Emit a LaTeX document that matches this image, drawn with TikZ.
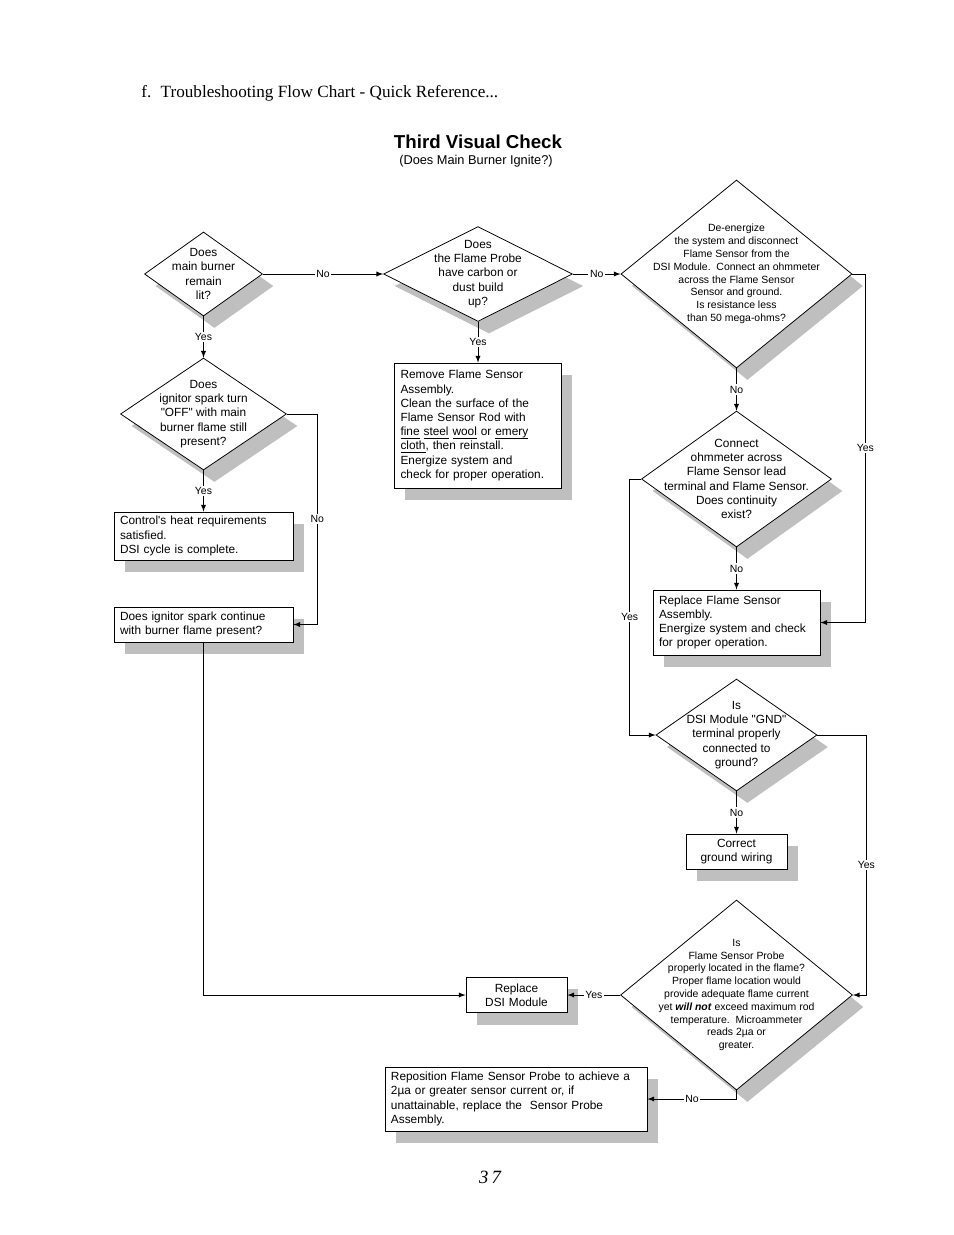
\documentclass[tikz,border=0pt]{standalone}
\usepackage{fontspec}
\setmainfont{Liberation Serif}
\setsansfont{Liberation Sans}
\newfontfamily\diagfont{Liberation Sans}
\usepackage{tikz}
\usetikzlibrary{shapes,arrows,shadows,calc}
\newcommand{\qfont}{\diagfont\fontsize{7.6}{9.1}\selectfont}
\newcommand{\qsmall}{\diagfont\fontsize{6.7}{8.2}\selectfont}
\newcommand{\lblfont}{\diagfont\fontsize{6.7}{8}\selectfont}
\newcommand{\ulw}[1]{\underline{\smash{#1}}}
\tikzstyle{boxshadow}=[drop shadow={shadow xshift=7pt,shadow yshift=-7.7pt,opacity=1,fill=black!25}]
\tikzstyle{ask}=[diamond,draw,fill=white,inner sep=0pt,boxshadow]
\tikzstyle{asktext}=[align=center,inner sep=0pt,font=\qfont]
\tikzstyle{stepbox}=[rectangle,draw,fill=white,inner xsep=3.85pt,inner ysep=2pt,align=left,font=\qfont,boxshadow]
\tikzstyle{yn}=[fill=white,inner sep=1pt,font=\lblfont]
\tikzstyle{link}=[-latex]

\begin{document}
\begin{tikzpicture}[x=0.6415pt,y=-0.6415pt,line width=0.5pt]
\useasboundingbox (0,0) rectangle (954,1235);
\node[anchor=west,inner sep=0pt,font=\fontsize{11}{13}\selectfont] (head) at (141,93) {f.\hspace{6pt}Troubleshooting Flow Chart - Quick Reference...};
\node[font=\sffamily\bfseries\fontsize{12}{14}\selectfont] (title) at (478,142) {Third Visual Check};
\node[font=\sffamily\fontsize{8.2}{10}\selectfont] (subtitle) at (476,161) {(Does Main Burner Ignite?)};
\node[font=\itshape\fontsize{12}{14}\selectfont] (pageno) at (490,1177) {3\,7};

% decisions
\node[ask,minimum width=75.7pt,minimum height=53.9pt] (lit) at (203.5,274) {};
\node[asktext] (litq) at (lit) {Does\\main burner\\remain\\lit?};
\node[ask,minimum width=121.2pt,minimum height=60.9pt] (carbon) at (478,274) {};
\node[asktext] (carbonq) at (carbon) {Does\\the Flame Probe\\have carbon or\\dust build\\up?};
\node[ask,minimum width=148.2pt,minimum height=120.6pt] (ohms) at (736.5,274) {};
\node[asktext,font=\qsmall] (ohmsq) at (ohms) {De-energize\\the system and disconnect\\Flame Sensor from the\\DSI Module.\ \ Connect an ohmmeter\\across the Flame Sensor\\Sensor and ground.\\Is resistance less\\than 50 mega-ohms?};
\node[ask,minimum width=106.5pt,minimum height=71.8pt] (off) at (203.5,414) {};
\node[asktext] (offq) at (off) {Does\\ignitor spark turn\\"OFF" with main\\burner flame still\\present?};
\node[ask,minimum width=121.9pt,minimum height=87.2pt] (cont) at (736.5,479) {};
\node[asktext] (contq) at (cont) {Connect\\ohmmeter across\\Flame Sensor lead\\terminal and Flame Sensor.\\Does continuity\\exist?};
\node[ask,minimum width=103.3pt,minimum height=71.8pt] (gnd) at (736.5,735) {};
\node[asktext] (gndq) at (gnd) {Is\\DSI Module "GND"\\terminal properly\\connected to\\ground?};
\node[ask,minimum width=148.8pt,minimum height=121.9pt] (probe) at (736.5,995) {};
\node[asktext,font=\qsmall] (probeq) at (probe) {Is\\Flame Sensor Probe\\properly located in the flame?\\Proper flame location would\\provide adequate flame current\\yet \textbf{\textit{will not}} exceed maximum rod\\temperature.\ \ Microammeter\\reads 2µa or\\greater.};

% actions
\node[stepbox,text width=107.1pt,minimum height=30.8pt] (satisfied) at (203.5,536) {Control's heat requirements\\satisfied.\\DSI cycle is complete.};
\node[stepbox,text width=107.1pt,minimum height=22.5pt] (sparkon) at (203.5,624.5) {Does ignitor spark continue\\with burner flame present?};
\node[stepbox,text width=99.4pt,minimum height=80.2pt] (clean) at (478,425.5) {Remove Flame Sensor\\Assembly.\\Clean the surface of the\\Flame Sensor Rod with\\\ulw{fine} \ulw{steel} \ulw{wool} or \ulw{emery}\\\ulw{cloth}, then reinstall.\\Energize system and\\check for proper operation.};
\node[stepbox,text width=99.4pt,minimum height=41.7pt] (newsensor) at (736.5,622.5) {Replace Flame Sensor\\Assembly.\\Energize system and check\\for proper operation.};
\node[stepbox,align=center,text width=57.1pt,minimum height=22.5pt] (wiring) at (736.5,851.5) {Correct\\ground wiring};
\node[stepbox,align=center,text width=57.1pt,minimum height=22.5pt] (newdsi) at (516.5,995) {Replace\\DSI Module};
\node[stepbox,text width=160.4pt,minimum height=41.1pt] (reposition) at (516,1099) {Reposition Flame Sensor Probe to achieve a\\2µa or greater sensor current or, if\\unattainable, replace the\ \ Sensor Probe\\Assembly.};

% connectors
\draw[link] (lit.east) -- node[yn]{No} (carbon.west);
\draw[link] (carbon.east) -- node[yn]{No} (ohms.west);
\draw[link] (lit.south) -- node[yn]{Yes} (off.north);
\draw[link] (carbon.south) -- node[yn]{Yes} (clean.north);
\draw[link] (off.south) -- node[yn]{Yes} (satisfied.north);
\draw[link] (off.east) -| node[yn,pos=0.75]{No} ($(sparkon.east)+(24,0)$) -- (sparkon.east);
\draw[link] (sparkon.south) |- (newdsi.west);
\draw[link] (ohms.south) -- node[yn]{No} (cont.north);
\draw[link] (ohms.east) -| node[yn,pos=0.75]{Yes} ($(newsensor.east)+(45,0)$) -- (newsensor.east);
\draw[link] (cont.south) -- node[yn]{No} (newsensor.north);
\draw[link] (cont.west) -| node[yn,pos=0.77]{Yes} ($(gnd.west)+(-26,0)$) -- (gnd.west);
\draw[link] (gnd.south) -- node[yn]{No} (wiring.north);
\draw[link] (gnd.east) -| node[yn,pos=0.75]{Yes} ($(probe.east)+(13.5,0)$) -- (probe.east);
\draw[link] (probe.west) -- node[yn]{Yes} (newdsi.east);
\draw[link] (probe.south) |- node[yn,pos=0.75]{No} (reposition.east);
\end{tikzpicture}
\end{document}
